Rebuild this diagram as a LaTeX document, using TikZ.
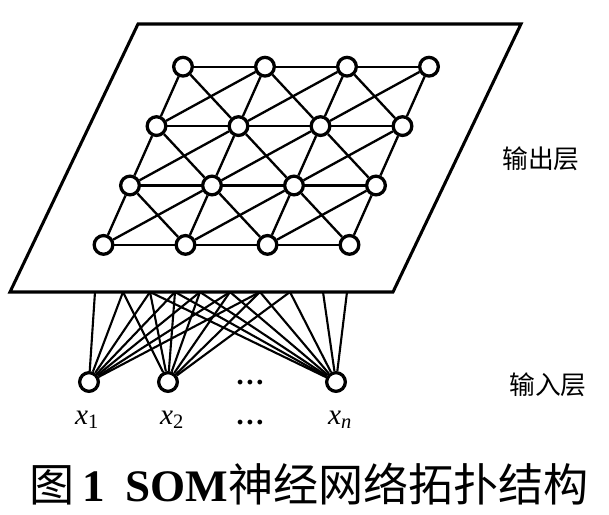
\documentclass[tikz,border=0pt]{standalone}
\usepackage{fontspec}
\setmainfont{Liberation Serif}
\newfontfamily\cjk{Noto Sans CJK SC}
\usetikzlibrary{positioning}
\tikzset{
  neuron/.style  = {draw, circle, line width=2.8pt, fill=white,
                    minimum size=5.6mm, inner sep=0pt},
  link/.style    = {line width=2pt},
  wire/.style    = {line width=1.8pt},
  plane/.style   = {line width=2.6pt, line join=miter},
  layername/.style = {font=\cjk\fontsize{22pt}{22pt}\selectfont},
  var/.style     = {font=\fontsize{25pt}{25pt}\selectfont\itshape, inner sep=0pt},
  dots/.style    = {font=\fontsize{25pt}{25pt}\selectfont\bfseries, inner sep=0pt},
  caption/.style = {font=\fontsize{38.5pt}{38.5pt}\selectfont, inner sep=0pt}
}

\begin{document}
\begin{tikzpicture}[x=0.3mm,y=-0.3mm]
  \useasboundingbox (0,0) rectangle (609,515);

  % output plane
  \coordinate (p1) at (138,24);
  \coordinate (p2) at (521,24);
  \coordinate (p3) at (393,292);
  \coordinate (p4) at (10,292);
  \draw[plane] (p1) -- (p2) -- (p3) -- (p4) -- cycle;

  % points where the input wires meet the plane
  \foreach \i/\x in {0/95,1/123,2/150,3/175,4/200,5/230,6/260,7/290,8/323,9/347}
    \coordinate (b\i) at (\x,292);

  % output neurons
  \foreach \r in {0,...,3}
    \foreach \c in {0,...,3}
      \node[neuron] (o\r\c) at ({183+82*\c-26.5*\r},{66.7+59.4*\r}) {};

  % lattice
  \foreach \r in {0,...,3}
    \foreach \c/\d in {0/1,1/2,2/3}
      \draw[link] (o\r\c) -- (o\r\d);
  \foreach \r/\s in {0/1,1/2,2/3} {
    \foreach \c in {0,...,3}
      \draw[link] (o\r\c) -- (o\s\c);
    \foreach \c/\d in {0/1,1/2,2/3} {
      \draw[link] (o\r\c) -- (o\s\d);
      \draw[link] (o\s\c) -- (o\r\d);
    }
  }

  % input neurons
  \node[neuron] (x1) at (89,382) {};
  \node[neuron] (x2) at (168,382) {};
  \node[neuron] (xn) at (336,382) {};
  \node[dots] (d1) at (250,383) {…};

  \foreach \i in {0,...,6} \draw[wire] (x1) -- (b\i);
  \foreach \i in {1,...,7} \draw[wire] (x2) -- (b\i);
  \foreach \i in {2,...,9} \draw[wire] (xn) -- (b\i);

  % labels
  \node[var, anchor=base] (l1) at (87,424) {x\textsubscript{\upshape 1}};
  \node[var, anchor=base] (l2) at (172,424) {x\textsubscript{\upshape 2}};
  \node[dots, anchor=base] (d2) at (250,424) {…};
  \node[var, anchor=base] (ln) at (340,424) {x\textsubscript{n}};

  \node[layername] (outname) at (541,159) {输出层};
  \node[layername] (inname) at (548,385) {输入层};

  \node[caption] (cap) at (309.5,484)
    {{\cjk 图}\,{\bfseries 1}\hspace{0.45em}{\bfseries SOM}{\cjk 神经网络拓扑结构}};
\end{tikzpicture}
\end{document}
